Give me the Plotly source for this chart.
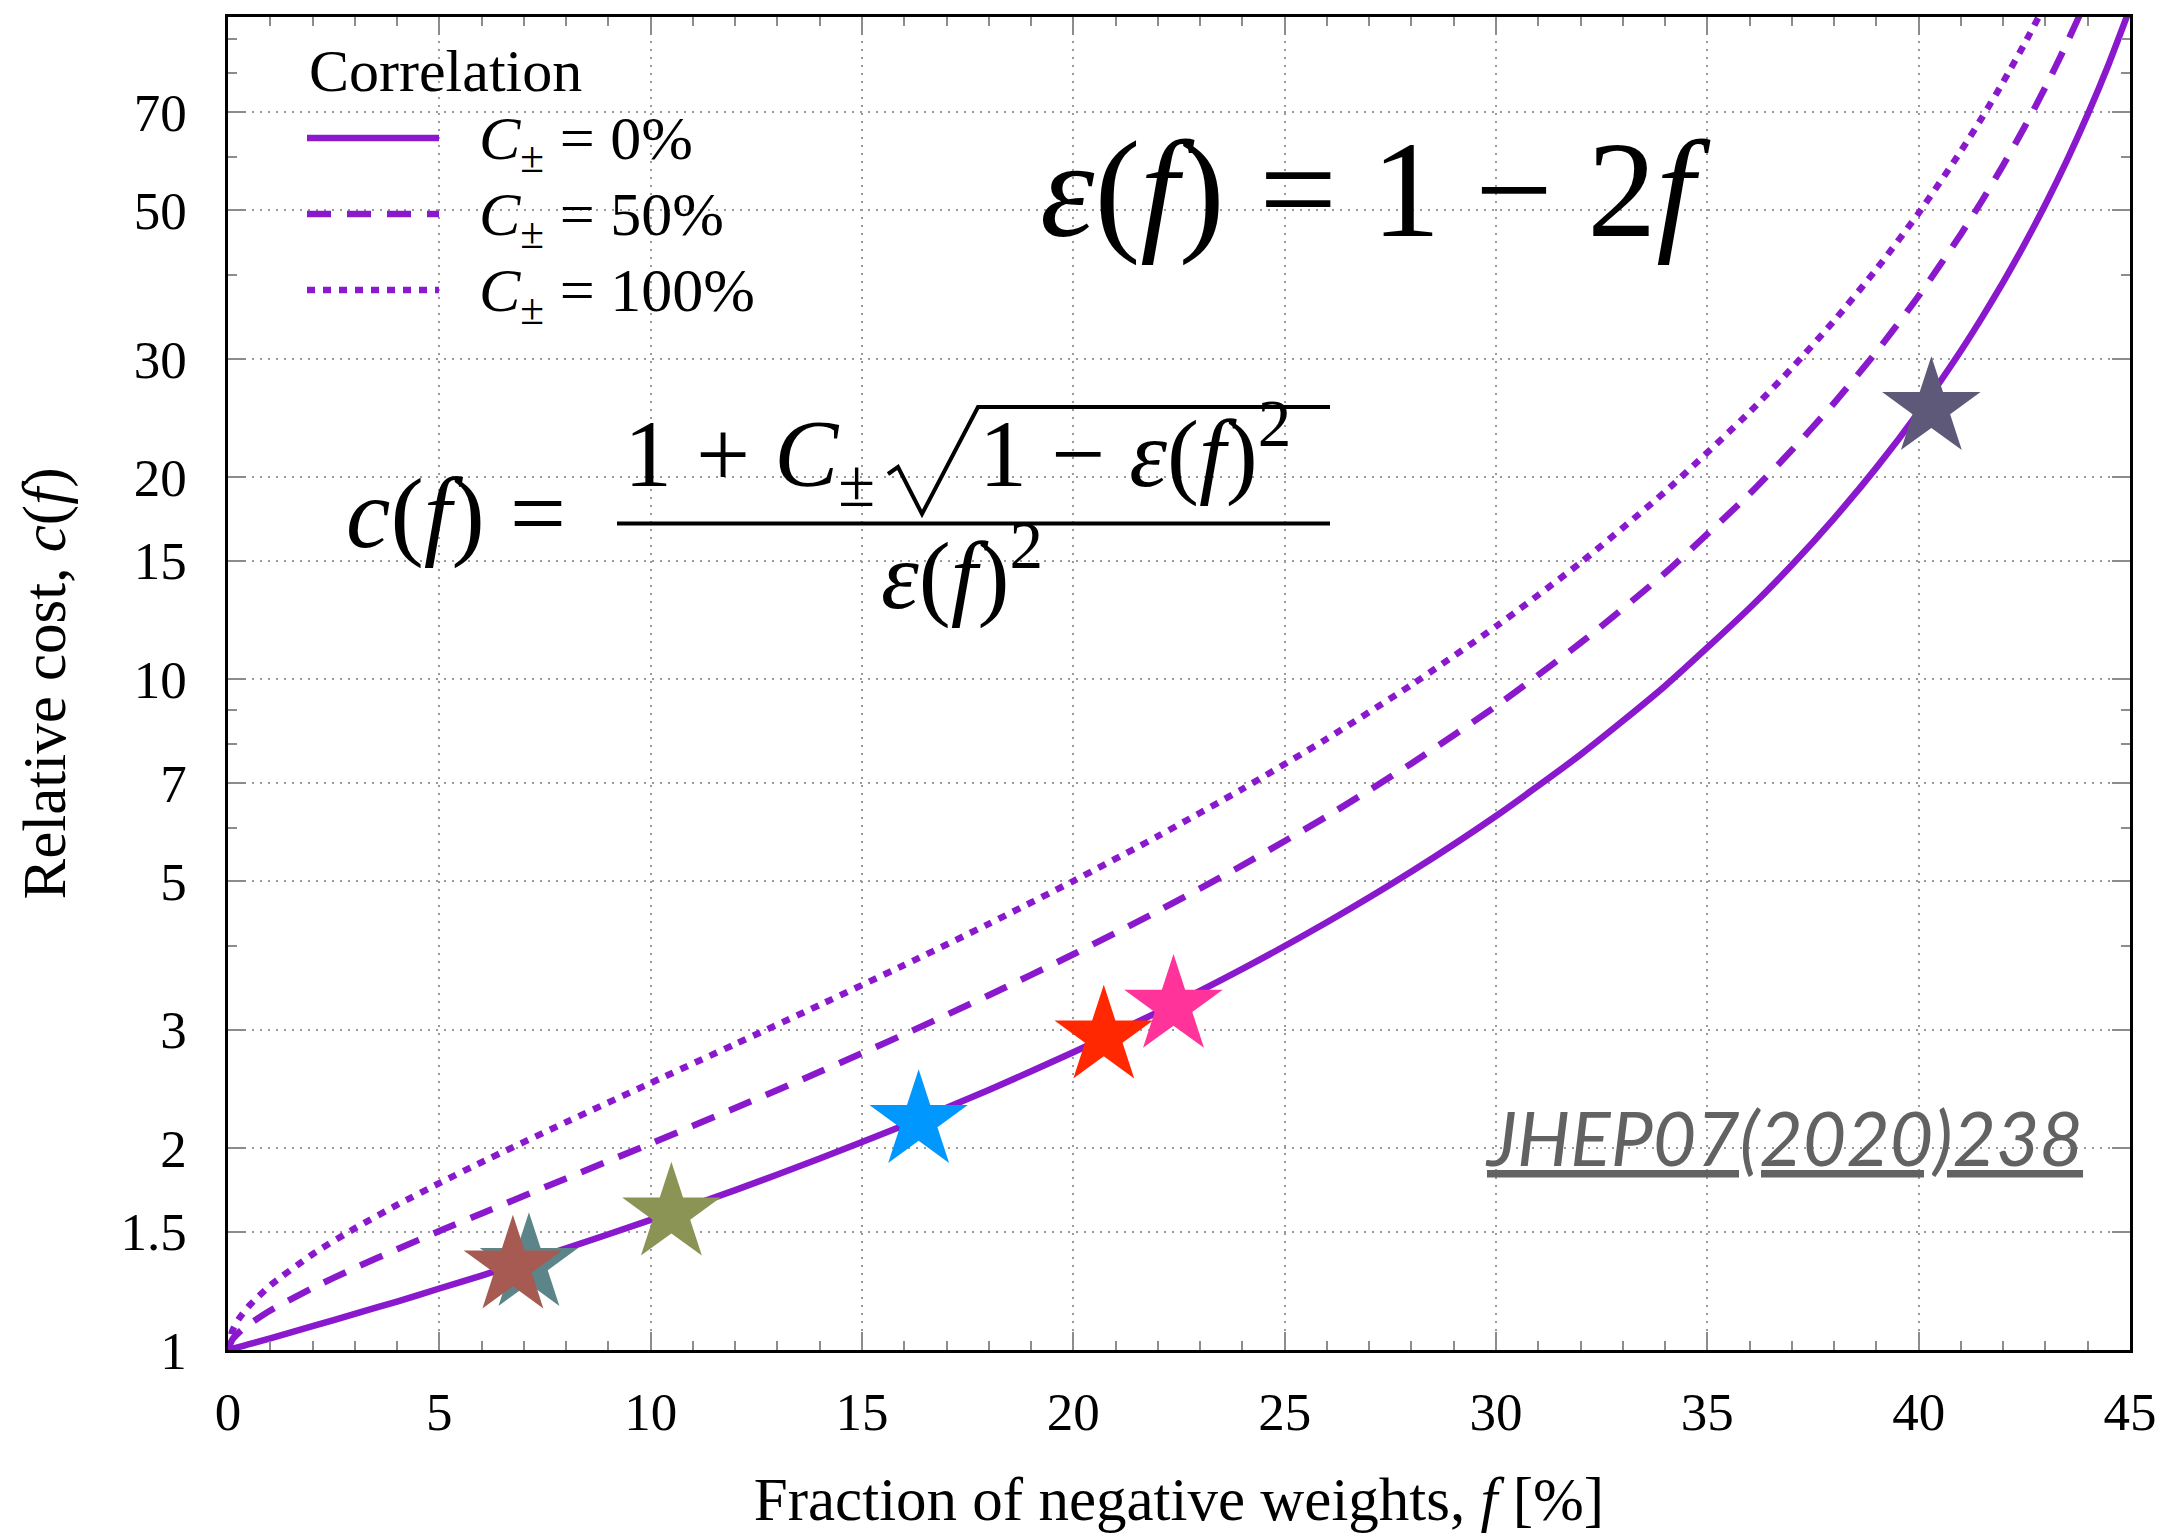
import math
import plotly.graph_objects as go

# ---------------- data ----------------
F_PCT = [0, 0.1, 0.25, 0.5, 1, 2, 3, 4, 5, 6, 8, 10, 12, 14, 16, 18, 20, 22, 24, 26,
         28, 30, 32, 34, 36, 37, 38, 39, 40, 41, 41.5, 42, 42.5, 43, 43.5, 44, 44.5, 45]
COST_C0 = [1.000, 1.004, 1.010, 1.020, 1.041, 1.085, 1.132, 1.181, 1.235, 1.291,
           1.417, 1.563, 1.731, 1.929, 2.163, 2.441, 2.778, 3.189, 3.698, 4.340,
           5.165, 6.250, 7.716, 9.766, 12.76, 14.79, 17.36, 20.66, 25.00, 30.86,
           34.60, 39.06, 44.44, 51.02, 59.17, 69.44, 82.64, 100.0]
COST_C50 = [1.000, 1.036, 1.061, 1.092, 1.145, 1.237, 1.325, 1.413, 1.504, 1.598,
            1.802, 2.031, 2.294, 2.598, 2.955, 3.379, 3.889, 4.510, 5.278, 6.244,
            7.485, 9.114, 11.32, 14.39, 18.88, 21.94, 25.79, 30.74, 37.25, 46.04,
            51.65, 58.34, 66.42, 76.28, 88.51, 103.9, 123.7, 149.7]
COST_C100 = [1.000, 1.067, 1.111, 1.164, 1.248, 1.389, 1.518, 1.645, 1.773, 1.905,
             2.186, 2.500, 2.857, 3.268, 3.748, 4.317, 5.000, 5.831, 6.857, 8.148,
             9.804, 11.98, 14.91, 19.02, 25.00, 29.08, 34.21, 40.82, 49.49, 61.22,
             68.70, 77.62, 88.39, 101.5, 117.8, 138.4, 164.8, 199.5]
SERIES_NAMES = ["C± = 0%", "C± = 50%", "C± = 100%"]
SERIES_LABELS = ["<i>C</i><sub>±</sub> = 0%", "<i>C</i><sub>±</sub> = 50%",
                 "<i>C</i><sub>±</sub> = 100%"]
SERIES_DASH = ["solid", "24px,16px", "8px,8px"]

STAR_F = [7.12, 6.74, 10.49, 16.34, 20.72, 22.37, 40.30]
STAR_COST = [1.343, 1.332, 1.597, 2.194, 2.932, 3.258, 25.34]
STAR_COLORS = ["#5B8589", "#A65A52", "#8C9455", "#0098FF", "#FF2800", "#FF3399", "#5F5979"]

X_TICKS = [0, 5, 10, 15, 20, 25, 30, 35, 40, 45]
Y_TICKS = [1, 1.5, 2, 3, 5, 7, 10, 15, 20, 30, 50, 70]
Y_TICK_TEXT = ["1", "1.5", "2", "3", "5", "7", "10", "15", "20", "30", "50", "70"]
Y_MINOR = [4, 6, 8, 9, 40, 60, 80, 90]
X_RANGE = [0, 45]
Y_RANGE = [1, 97]

# ---------------- style ----------------
PURPLE = "#8A18CD"
SERIF = "Liberation Serif"
TICKGRAY = "#8c8c8c"
GRIDGRAY = "#9a9a9a"

W, H = 2166, 1533
ML, MR, MT, MB = 228, 36, 17, 183
PW, PH = W - ML - MR, H - MT - MB


def px(x):
    return (x - ML) / PW


def py(y):
    return (H - MB - y) / PH


fig = go.Figure()

for name, ys, dash in zip(SERIES_NAMES, [COST_C0, COST_C50, COST_C100], SERIES_DASH):
    fig.add_trace(go.Scatter(
        x=F_PCT, y=ys, mode="lines", name=name,
        line=dict(color=PURPLE, width=6.5, dash=dash, shape="spline", smoothing=0.6),
        showlegend=False, hoverinfo="skip"))

fig.add_trace(go.Scatter(
    x=STAR_F, y=STAR_COST, mode="markers", name="processes",
    marker=dict(symbol="star", size=74, color=STAR_COLORS, line=dict(width=0)),
    showlegend=False))

axis_common = dict(
    showline=True, linecolor="black", linewidth=2.5, mirror="allticks",
    ticks="inside", ticklen=18, tickwidth=2, tickcolor=TICKGRAY,
    showgrid=True, gridcolor=GRIDGRAY, gridwidth=1.5, griddash="2px,6px",
    zeroline=False, automargin=False,
    tickfont=dict(family=SERIF, size=53, color="black"),
)

fig.update_layout(
    width=W, height=H,
    margin=dict(l=ML, r=MR, t=MT, b=MB),
    paper_bgcolor="white", plot_bgcolor="white",
    showlegend=False,
    xaxis=dict(
        range=X_RANGE, tickmode="array", tickvals=X_TICKS,
        ticklabelstandoff=14,
        minor=dict(dtick=1, ticks="inside", ticklen=9, tickwidth=2,
                   tickcolor=TICKGRAY, showgrid=False),
        title=dict(text="Fraction of negative weights, <i>f</i> [%]",
                   font=dict(family=SERIF, size=61, color="black"), standoff=42),
        **axis_common),
    yaxis=dict(
        type="log", range=[math.log10(Y_RANGE[0]), math.log10(Y_RANGE[1])],
        tickmode="array", tickvals=Y_TICKS, ticktext=Y_TICK_TEXT,
        ticklabelstandoff=28,
        minor=dict(tickmode="array", tickvals=Y_MINOR, ticks="inside", ticklen=9,
                   tickwidth=2, tickcolor=TICKGRAY, showgrid=False),
        title=dict(text="Relative cost, <i>c</i>(<i>f</i>)",
                   font=dict(family=SERIF, size=61, color="black"), standoff=36),
        **axis_common),
)

shapes = []
# white backgrounds behind legend and formulas (above grid, below traces)
for (x0, y0, x1, y1) in [(px(230), py(331), px(774), py(19)),
                         (px(322), py(638), px(1340), py(398)),
                         (px(1029), py(276), px(1727), py(131))]:
    shapes.append(dict(type="rect", xref="paper", yref="paper", x0=x0, x1=x1, y0=y0, y1=y1,
                       fillcolor="white", line=dict(width=0), layer="between"))

# legend line samples
LEG_Y = [138, 214, 290]
for yy, dash in zip(LEG_Y, SERIES_DASH):
    shapes.append(dict(type="line", xref="paper", yref="paper",
                       x0=px(307), x1=px(439), y0=py(yy), y1=py(yy),
                       line=dict(color=PURPLE, width=6.5, dash=dash)))

# fraction bar
shapes.append(dict(type="line", xref="paper", yref="paper",
                   x0=px(617), x1=px(1330), y0=py(523.5), y1=py(523.5),
                   line=dict(color="black", width=4)))
# radical sign
rad = [(888, 474), (898, 467), (922, 514), (978, 407), (1330, 407)]
path = "M " + " L ".join(f"{px(a):.5f},{py(b):.5f}" for a, b in rad)
shapes.append(dict(type="path", xref="paper", yref="paper", path=path,
                   line=dict(color="black", width=4)))

annotations = []
annotations.append(dict(xref="paper", yref="paper", x=px(307), y=py(71), xanchor="left",
                        yanchor="middle", showarrow=False, text="Correlation",
                        font=dict(family=SERIF, size=60, color="black")))
for yy, lab in zip(LEG_Y, SERIES_LABELS):
    annotations.append(dict(xref="paper", yref="paper", x=px(477), y=py(yy + 4),
                            xanchor="left", yanchor="middle", showarrow=False, text=lab,
                            font=dict(family=SERIF, size=62, color="black")))

annotations.append(dict(xref="paper", yref="paper", x=px(1375), y=py(189),
                        xanchor="center", yanchor="middle", showarrow=False,
                        text="<i>ε</i>(<i>f</i>) = 1 − 2<i>f</i>",
                        font=dict(family=SERIF, size=138, color="black")))
annotations.append(dict(xref="paper", yref="paper", x=px(456), y=py(513),
                        xanchor="center", yanchor="middle", showarrow=False,
                        text="<i>c</i>(<i>f</i>) =",
                        font=dict(family=SERIF, size=100, color="black")))
annotations.append(dict(xref="paper", yref="paper", x=px(622), y=py(453),
                        xanchor="left", yanchor="middle", showarrow=False,
                        text="1 + <i>C</i><sub>±</sub>\u2003\u200a1 − <i>ε</i>(<i>f</i>)<sup>2</sup>",
                        font=dict(family=SERIF, size=96, color="black")))
annotations.append(dict(xref="paper", yref="paper", x=px(962), y=py(568),
                        xanchor="center", yanchor="middle", showarrow=False,
                        text="<i>ε</i>(<i>f</i>)<sup>2</sup>",
                        font=dict(family=SERIF, size=96, color="black")))
annotations.append(dict(xref="paper", yref="paper", x=px(1784), y=py(1137),
                        xanchor="center", yanchor="middle", showarrow=False,
                        text="<i><u>JHEP07(2020)238</u></i>",
                        font=dict(family="Lato", size=75, color="#626262")))

fig.update_layout(shapes=shapes, annotations=annotations)
fig.write_html("out.html")
